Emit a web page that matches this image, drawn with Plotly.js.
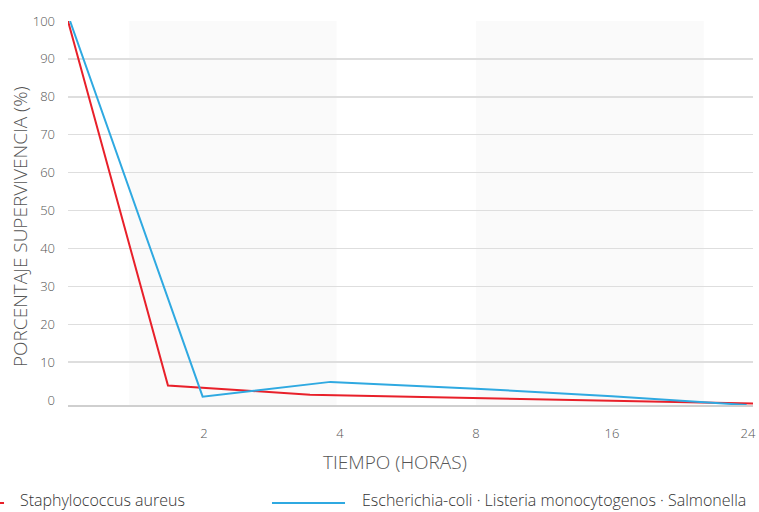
<!DOCTYPE html>
<html>
<head>
<meta charset="utf-8">
<script src="https://cdn.plot.ly/plotly-3.0.1.min.js"></script>
<style>html,body{margin:0;padding:0;background:#fff;}#chart{width:759px;height:512px;}</style>
</head>
<body>
<div id="chart"></div>
<script>
// Data (x positions in tick-slot units: 0 = start, 1..5 = 2,4,8,16,24 h)
var tickPositions = [1, 2, 3, 4, 5];
var tickLabels = ['2', '4', '8', '16', '24'];
var staphX = [0, 0.735, 1.78, 5.04];
var staphY = [100, 3.85, 1.4, -0.9];
var ecoliX = [0.015, 0.99, 1.93, 3, 4, 4.99];
var ecoliY = [100, 0.9, 4.8, 3.0, 1.0, -1.3];
var seriesNames = ['Staphylococcus aureus', 'Escherichia-coli · Listeria monocytogenos · Salmonella'];
var bands = [[0.45, 1.975], [3.0, 4.675]];

var RED = '#e8202a', BLUE = '#2fa9e1';
var FONT = '"Open Sans", "Segoe UI", sans-serif';

var traces = [
  {x: staphX, y: staphY, mode: 'lines', name: seriesNames[0], line: {color: RED, width: 2}},
  {x: ecoliX, y: ecoliY, mode: 'lines', name: seriesNames[1], line: {color: BLUE, width: 2}}
];

var legY = -0.247;
var shapes = bands.map(function (b) {
  return {type: 'rect', xref: 'x', yref: 'paper', x0: b[0], x1: b[1], y0: 0, y1: 1,
          fillcolor: '#fafafa', line: {width: 0}, layer: 'below'};
});
// legend symbols
shapes.push({type: 'line', xref: 'paper', yref: 'paper', x0: -0.22, x1: -0.0934, y0: -0.255, y1: -0.255,
             line: {color: RED, width: 2}});
shapes.push({type: 'line', xref: 'paper', yref: 'paper', x0: 0.2978, x1: 0.4044, y0: -0.255, y1: -0.255,
             line: {color: BLUE, width: 2}});

var annotations = [
  {text: 'TIEMPO (HORAS)', xref: 'paper', yref: 'paper', x: 0.4774, y: -0.148, xanchor: 'center', yanchor: 'middle',
   showarrow: false, font: {family: FONT, size: 19, weight: 300, color: '#555'}},
  {text: 'PORCENTAJE SUPERVIVENCIA (%)', xref: 'paper', yref: 'paper', x: -0.070, y: 0.4635, textangle: -90,
   xanchor: 'center', yanchor: 'middle', showarrow: false, font: {family: FONT, size: 19, weight: 300, color: '#555'}},
  {text: seriesNames[0], xref: 'paper', yref: 'paper', x: -0.073, y: legY, xanchor: 'left', yanchor: 'middle',
   showarrow: false, font: {family: FONT, size: 16, weight: 300, color: '#333'}},
  {text: seriesNames[1], xref: 'paper', yref: 'paper', x: 0.4263, y: legY, xanchor: 'left', yanchor: 'middle',
   showarrow: false, font: {family: FONT, size: 16, weight: 300, color: '#333'}}
];

var layout = {
  width: 759, height: 512,
  margin: {l: 68, r: 6, t: 21, b: 107},
  paper_bgcolor: '#fff', plot_bgcolor: 'rgba(0,0,0,0)',
  showlegend: false,
  font: {family: FONT, color: '#555', size: 13},
  xaxis: {
    type: 'linear', range: [0, 5.037], tickmode: 'array', tickvals: tickPositions, ticktext: tickLabels,
    showgrid: false, zeroline: false, showline: true, linecolor: '#cfcfcf', linewidth: 1.5,
    ticks: '', ticklabelstandoff: 16, tickfont: {family: FONT, size: 13, weight: 300, color: '#555'}, fixedrange: true
  },
  yaxis: {
    range: [-1.3, 100], tickmode: 'linear', tick0: 0, dtick: 10,
    showgrid: true, gridcolor: '#dedede', gridwidth: 1.5,
    zeroline: true, zerolinecolor: 'rgba(0,0,0,0)', zerolinewidth: 0.1, showline: false,
    ticks: '', ticklabelstandoff: 12, tickfont: {family: FONT, size: 13, weight: 300, color: '#555'}, fixedrange: true
  },
  shapes: shapes,
  annotations: annotations
};

Plotly.newPlot('chart', traces, layout, {displayModeBar: false, staticPlot: true});
</script>
</body>
</html>
